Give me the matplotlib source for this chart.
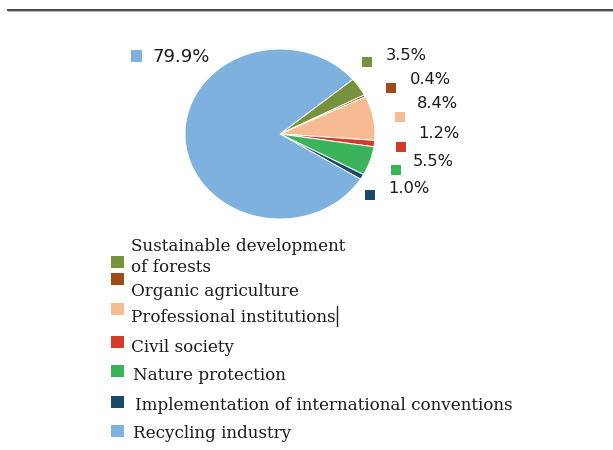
import matplotlib.pyplot as plt
from matplotlib.patches import Rectangle
from matplotlib.lines import Line2D

# sectors, in the order they are drawn clockwise from the top-right
labels = ['Sustainable development\nof forests', 'Organic agriculture', 'Professional institutions',
          'Civil society', 'Nature protection', 'Implementation of international conventions',
          'Recycling industry']
shares = [3.5, 0.4, 8.4, 1.2, 5.5, 1.0, 79.9]
colors = ['#77913f', '#9c4a1e', '#f6bb93', '#d03b2a', '#3ab35a', '#184a6b', '#7eb1dd']

W, H = 613, 450
fig = plt.figure(figsize=(W / 100, H / 100), dpi=100)

def fx(x):
    return x / W

def fy(y):
    return 1 - y / H

# rule along the top
fig.add_artist(Line2D([fx(8), 1], [fy(9.5), fy(9.5)], color='#444444', lw=1.4))
fig.add_artist(Line2D([fx(8), 1], [fy(11), fy(11)], color='#bbbbbb', lw=0.8))

# pie, slightly wider than tall
cx, cy, rx, ry = 280, 134, 95, 85
ax = fig.add_axes([fx(cx - rx), fy(cy + ry), 2 * rx / W, 2 * ry / H])
ax.pie(shares, colors=colors, startangle=40, counterclock=False, radius=1,
       wedgeprops=dict(edgecolor='white', linewidth=0.7))
ax.set_aspect('auto')
ax.set_xlim(-1, 1)
ax.set_ylim(-1, 1)
ax.axis('off')

# value labels with colour keys
lab_pos = [(367, 62), (391, 88), (400, 117), (401, 147), (396, 170), (370, 195), (136, 56)]
txt_pos = [(386, 55), (410, 79), (417, 104), (418, 133), (413, 161), (388, 189), (153, 57)]
for v, c, (mx, my), (tx, ty) in zip(shares, colors, lab_pos, txt_pos):
    big = v > 50
    s = 11 if big else 10
    fig.add_artist(Rectangle((fx(mx - s / 2), fy(my + s / 2)), s / W, s / H,
                             facecolor=c, edgecolor='none'))
    fig.text(fx(tx), fy(ty), f'{v:.1f}%', fontsize=13 if big else 11.7,
             color='#1a1a1a', va='center', ha='left', family='DejaVu Sans')

# legend below the pie
leg_key = [262, 279, 309, 342, 371, 402, 431]
leg_txt = [(131, 257), (131, 292), (131, 317), (131, 347), (133, 376), (135, 405), (133, 434)]
for lab, c, ky, (tx, ty) in zip(labels, colors, leg_key, leg_txt):
    fig.add_artist(Rectangle((fx(111), fy(ky + 6)), 13 / W, 12 / H,
                             facecolor=c, edgecolor='none'))
    fig.text(fx(tx), fy(ty), lab, fontsize=12.1, color='#1a1a1a', va='center',
             ha='left', family='DejaVu Serif', linespacing=1.25)

# text cursor left after "Professional institutions"
fig.add_artist(Line2D([fx(337), fx(337)], [fy(306), fy(326)], color='#222222', lw=1))

fig.savefig('out.png', dpi=100, facecolor='white')
